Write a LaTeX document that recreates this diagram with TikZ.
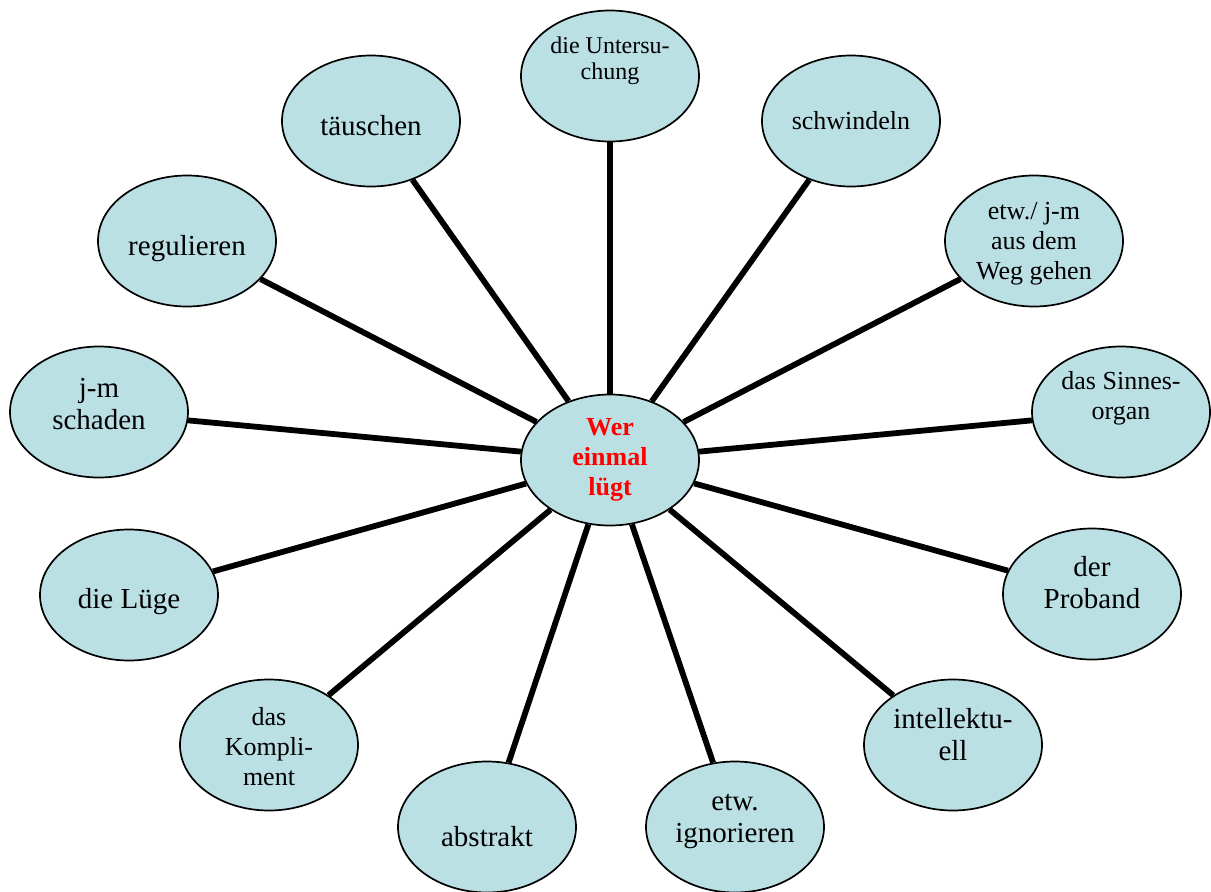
\documentclass[tikz,border=0pt]{standalone}
\usepackage{fontspec}
\setmainfont{Liberation Serif}
\usetikzlibrary{shapes.geometric}
\definecolor{bubble}{RGB}{186,224,228}
\definecolor{centerred}{RGB}{255,0,0}
\begin{document}
\begin{tikzpicture}[x=1pt,y=-1pt,
  bub/.style={ellipse,draw=black,line width=1.7pt,fill=bubble,minimum width=178pt,minimum height=131pt,inner sep=0pt},
  lbl/.style={align=center,font=\fontsize{29}{32}\selectfont,text=black,inner sep=0pt},
  lblm/.style={lbl,font=\fontsize{26}{30}\selectfont},
  lbls/.style={lbl,font=\fontsize{24}{26}\selectfont},
  lblc/.style={lbl,font=\bfseries\fontsize{26}{30}\selectfont,text=centerred},
  spoke/.style={line width=5.8pt,draw=black}]
\useasboundingbox (0,0) rectangle (1211,892);
% bubbles
\node[bub] (c) at (610,460) {};
\node[bub] (u) at (610,76) {};
\node[bub] (s) at (851,121) {};
\node[bub] (w) at (1034,241) {};
\node[bub] (o) at (1121,412) {};
\node[bub] (p) at (1092,594) {};
\node[bub] (i) at (953,745) {};
\node[bub] (g) at (735,827) {};
\node[bub] (a) at (487,827) {};
\node[bub] (k) at (269,745) {};
\node[bub] (l) at (129,595) {};
\node[bub] (j) at (99,412) {};
\node[bub] (r) at (187,241) {};
\node[bub] (t) at (371,121) {};
% spokes
\foreach \n in {u,s,w,o,p,i,g,a,k,l,j,r,t}
  \draw[spoke] (c) -- (\n);
% labels
\node[lblc] (ct) at (610,460) {Wer\\einmal\\lügt};
\node[lbls] (ut) at (610,61) {die Untersu-\\chung};
\node[lblm] (st) at (851,121) {schwindeln};
\node[lblm] (wt) at (1034,244) {etw./ j-m\\aus dem\\Weg gehen};
\node[lblm] (ot) at (1121,398) {das Sinnes-\\organ};
\node[lbl] (pt) at (1092,583) {der\\Proband};
\node[lbl] (it) at (953,735) {intellektu-\\ell};
\node[lbl] (gt) at (735,821) {etw.\\ignorieren};
\node[lbl] (at) at (487,837) {abstrakt};
\node[lblm] (kt) at (269,747) {das\\Kompli-\\ment};
\node[lbl] (lt) at (129,602) {die Lüge};
\node[lbl] (jt) at (99,404) {j-m\\schaden};
\node[lbl] (rt) at (187,249) {regulieren};
\node[lbl] (tt) at (371,126) {täuschen};
\end{tikzpicture}
\end{document}
